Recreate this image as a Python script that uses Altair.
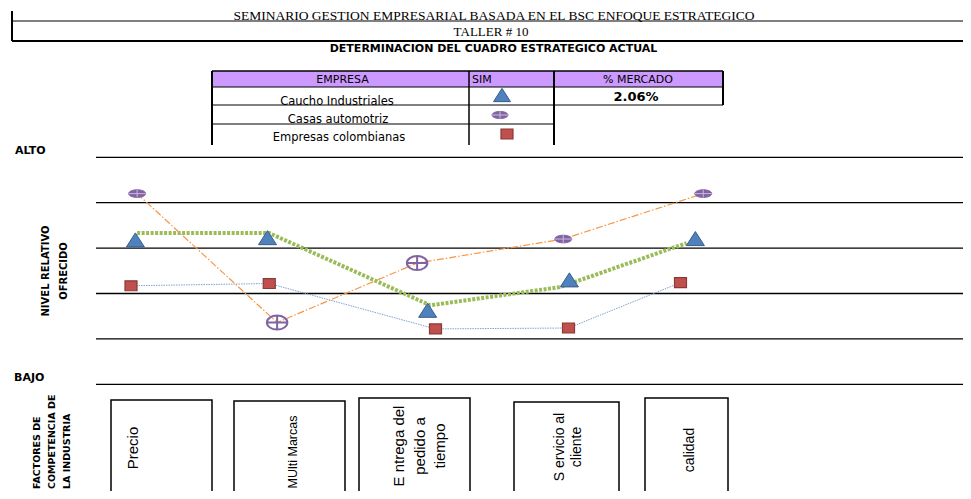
import altair as alt
import pandas as pd

# ---------------- data ----------------
empresas = ["Caucho Industriales", "Casas automotriz", "Empresas colombianas"]
factores = ["Precio", "MUlti Marcas", "E ntrega del\npedido a\ntiempo",
            "S ervicio al\ncliente", "calidad"]
niveles = [0, 1, 2, 3, 4, 5]
titulo = "SEMINARIO GESTION EMPRESARIAL BASADA EN EL BSC ENFOQUE ESTRATEGICO"
taller = "TALLER # 10"
subtitulo = "DETERMINACION DEL CUADRO ESTRATEGICO ACTUAL"
encabezados = ["EMPRESA", "SIM", "% MERCADO"]
mercado = ["2.06%"]
eje_extremos = ["ALTO", "BAJO"]
eje_nivel = ["NIVEL RELATIVO", "OFRECIDO"]
eje_factores = ["FACTORES DE", "COMPETENCIA DE", "LA INDUSTRIA"]

# series (x: position along factor axis, y: level 0-5)
caucho_x = [0.45, 1.96, 3.79, 5.41, 6.85]
caucho_y = [3.18, 3.23, 1.63, 2.30, 3.21]
caucho_linea_x = [0.47, 1.98, 3.82, 5.30, 6.75]
caucho_linea_y = [3.33, 3.33, 1.74, 2.14, 3.11]
casas_x = [0.47, 2.07, 3.67, 5.34, 6.94]
casas_y = [4.20, 1.36, 2.67, 3.20, 4.20]
colomb_x = [0.40, 1.98, 3.88, 5.40, 6.68]
colomb_y = [2.17, 2.22, 1.22, 1.24, 2.24]

# ---------------- layout ----------------
W, H = 955, 483
OFF = 8


def P(v):
    return v - OFF


xs = alt.Scale(domain=[0, 10], range=[P(96), P(971)])
ys = alt.Scale(domain=[0, 5], range=[P(384.3), P(157.3)])

TRI = "M0,-0.78L1,0.78L-1,0.78Z"
SQR = "M-1,-0.83L1,-0.83L1,0.83L-1,0.83Z"
ELL = "M-1,0A1,0.45,0,1,1,1,0A1,0.45,0,1,1,-1,0Z"
ELL_X = "M-1,0L1,0M0,-0.45L0,0.45"
CIR = "M-1,0A1,0.68,0,1,1,1,0A1,0.68,0,1,1,-1,0ZM-1,0L1,0M0,-0.68L0,0.68"

BLUE, BLUE_D = "#4F81BD", "#385D8A"
RED, RED_D = "#C0504D", "#8C3836"
PURPLE = "#8064A2"
GREEN = "#9BBB59"
ORANGE = "#F79646"

NX = alt.X("x:Q", scale=None, axis=None)
NY = alt.Y("y:Q", scale=None, axis=None)


def rules(segs):
    df = pd.DataFrame([dict(x=P(a), y=P(b), x2=P(c), y2=P(d), w=w) for a, b, c, d, w in segs])
    return alt.Chart(df).mark_rule(color="black").encode(
        x=NX, y=NY, x2="x2:Q", y2="y2:Q",
        strokeWidth=alt.StrokeWidth("w:Q", scale=None, legend=None))


def texts(items, **kw):
    df = pd.DataFrame([dict(t=t, x=P(x), y=P(y)) for t, x, y in items])
    return alt.Chart(df).mark_text(**kw).encode(x=NX, y=NY, text="t:N")


def rects(items, **kw):
    df = pd.DataFrame([dict(x=P(a), y=P(b), x2=P(c), y2=P(d)) for a, b, c, d in items])
    return alt.Chart(df).mark_rect(**kw).encode(x=NX, y=NY, x2="x2:Q", y2="y2:Q")


def syms(items, shape, size, **kw):
    df = pd.DataFrame([dict(x=P(x), y=P(y)) for x, y in items])
    return alt.Chart(df).mark_point(shape=shape, size=size, opacity=1, **kw).encode(x=NX, y=NY)


# header lines
top_rules = rules([
    (12, 11, 12, 41, 2),
    (12, 21, 971, 21, 1.2),
    (12, 41, 971, 41, 2),
])

# table
table_fill = rects([(212, 71, 723, 87)], fill="#CC99FF")
table_rules = rules([
    (212, 71, 723, 71, 1.5),
    (212, 87, 723, 87, 1),
    (212, 105, 723, 105, 1),
    (212, 124, 554, 124, 1),
    (212, 71, 212, 145, 2),
    (469, 71, 469, 145, 1.5),
    (554, 71, 554, 145, 2),
    (723, 71, 723, 105, 2),
])

serif = texts([(titulo, 494, 20)],
              font="Liberation Serif", fontSize=13.5, baseline="alphabetic", align="center")
serif2 = texts([(taller, 491, 35.5)],
               font="Liberation Serif", fontSize=13, baseline="alphabetic", align="center")
sub = texts([(subtitulo, 493.5, 51.5)], font="DejaVu Sans", fontWeight="bold",
            fontSize=11, baseline="alphabetic", align="center")

head_c = texts([(encabezados[0], 342.5, 83), (encabezados[2], 638, 83)],
               font="DejaVu Sans", fontSize=11, baseline="alphabetic", align="center")
head_l = texts([(encabezados[1], 472, 83)],
               font="DejaVu Sans", fontSize=11, baseline="alphabetic", align="left")
rows = texts([(empresas[0], 337, 104.5), (empresas[1], 338, 123), (empresas[2], 339, 140.5)],
             font="DejaVu Sans", fontSize=11.5, baseline="alphabetic", align="center")
pct = texts([(mercado[0], 636, 100.5)], font="DejaVu Sans", fontWeight="bold",
            fontSize=13, baseline="alphabetic", align="center")

leg_tri = syms([(502, 95)], TRI, 289, filled=True, fill=BLUE, stroke=BLUE_D, strokeWidth=1)
leg_ell = syms([(500, 115)], ELL, 256, filled=True, fill=PURPLE, stroke=PURPLE, strokeWidth=1)
leg_ellx = syms([(500, 115)], ELL_X, 256, filled=False, stroke="#C9B8DD", strokeWidth=1)
leg_sqr = syms([(507, 134)], SQR, 144, filled=True, fill=RED, stroke=RED_D, strokeWidth=1.2)

# axis labels
ext = texts([(eje_extremos[0], 15, 154), (eje_extremos[1], 14, 381)],
            font="DejaVu Sans", fontWeight="bold", fontSize=11, baseline="alphabetic", align="left")
nivel = texts([(eje_nivel[0], 46, 271), (eje_nivel[1], 64, 271)],
              font="DejaVu Sans", fontWeight="bold", fontSize=10, baseline="middle",
              align="center", angle=270)
fact = texts([(eje_factores[0], 37, 489), (eje_factores[1], 52, 489), (eje_factores[2], 67, 489)],
             font="DejaVu Sans", fontWeight="bold", fontSize=9.5, baseline="middle",
             align="left", angle=270)

# factor boxes
boxes = rects([(111, 400, 212, 530), (234, 401, 345, 530), (359, 398, 470, 530),
               (514, 402, 619, 530), (645, 398, 728, 530)],
              fill="white", stroke="black", strokeWidth=1.5)
# (x of first line, y centre, font size, line height)
box_pos = [(133, 448, 15, 18), (293, 452, 12.5, 16), (399, 446, 15, 20.5),
           (560, 447, 14, 17), (690, 450, 14, 17)]
box_labels = [
    texts([(factores[i], box_pos[i][0], box_pos[i][1])], font="Liberation Sans",
          fontSize=box_pos[i][2], lineHeight=box_pos[i][3], lineBreak="\n",
          baseline="middle", align="center", angle=270)
    for i in range(len(factores))
]

# gridlines
grid = alt.Chart(pd.DataFrame({"nivel": niveles})).mark_rule(
    color="black", strokeWidth=1.3).encode(
    y=alt.Y("nivel:Q", scale=ys, axis=None), x=alt.value(P(96)), x2=alt.value(W))

df_caucho = pd.DataFrame({"x": caucho_x, "y": caucho_y})
df_caucho_l = pd.DataFrame({"x": caucho_linea_x, "y": caucho_linea_y})
df_casas = pd.DataFrame({"x": casas_x, "y": casas_y, "i": list(range(len(casas_x)))})
df_colomb = pd.DataFrame({"x": colomb_x, "y": colomb_y})

SX = alt.X("x:Q", scale=xs, axis=None)
SY = alt.Y("y:Q", scale=ys, axis=None)

line_colomb = alt.Chart(df_colomb).mark_line(
    color="#7FA3D3", strokeWidth=1, strokeDash=[1.5, 1]).encode(x=SX, y=SY)
line_casas = alt.Chart(df_casas).mark_line(
    color=ORANGE, strokeWidth=1.2, strokeDash=[7, 2, 1.5, 2]).encode(x=SX, y=SY)
line_caucho = alt.Chart(df_caucho_l).mark_line(
    color=GREEN, strokeWidth=4, strokeDash=[3, 1.5], strokeCap="butt").encode(x=SX, y=SY)

pts_colomb = alt.Chart(df_colomb).mark_point(
    shape=SQR, size=144, filled=True, fill=RED, stroke=RED_D, strokeWidth=1.2, opacity=1
).encode(x=SX, y=SY)
small = "datum.i != 1 && datum.i != 2"
pts_casas_s = alt.Chart(df_casas).transform_filter(small).mark_point(
    shape=ELL, size=289, filled=True, fill=PURPLE, stroke=PURPLE, strokeWidth=1, opacity=1
).encode(x=SX, y=SY)
pts_casas_sx = alt.Chart(df_casas).transform_filter(small).mark_point(
    shape=ELL_X, size=289, filled=False, stroke="#C9B8DD", strokeWidth=1, opacity=1
).encode(x=SX, y=SY)
pts_casas_l = alt.Chart(df_casas).transform_filter("!(" + small + ")").mark_point(
    shape=CIR, size=420, filled=False, stroke=PURPLE, strokeWidth=2, opacity=1
).encode(x=SX, y=SY)
pts_caucho = alt.Chart(df_caucho).mark_point(
    shape=TRI, size=324, filled=True, fill=BLUE, stroke=BLUE_D, strokeWidth=1, opacity=1
).encode(x=SX, y=SY)

chart = alt.layer(
    top_rules, table_fill, table_rules, serif, serif2, sub, head_c, head_l, rows, pct,
    leg_tri, leg_ell, leg_ellx, leg_sqr, ext, nivel, fact, boxes, *box_labels,
    grid, line_colomb, line_casas, line_caucho,
    pts_colomb, pts_casas_s, pts_casas_sx, pts_casas_l, pts_caucho,
).resolve_scale(x="independent", y="independent").properties(
    width=W, height=H, padding=0, autosize=alt.AutoSizeParams(type="none"),
    background="white",
).configure_view(stroke=None)

chart.save("out.html", embed_options={"renderer": "svg", "actions": False})
